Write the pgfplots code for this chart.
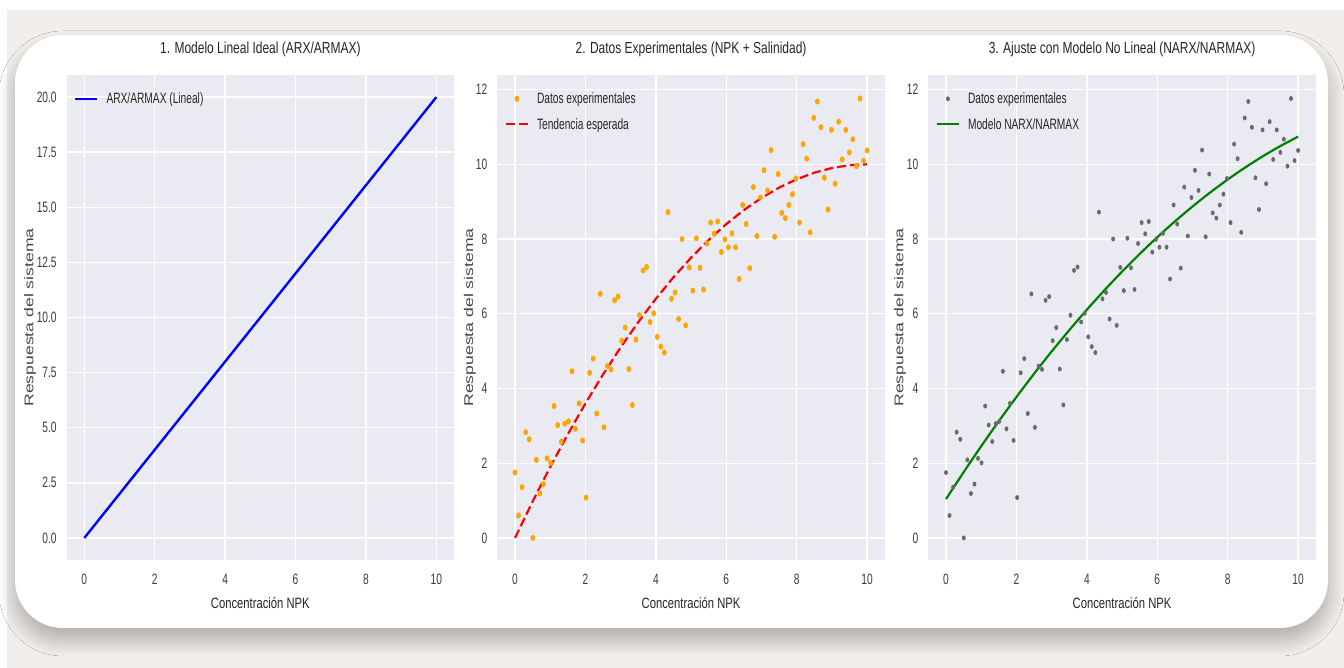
\documentclass[border=0pt]{standalone}
\usepackage{fontspec}
\setmainfont{Liberation Sans}
\newfontfamily\titlefont[FakeStretch=0.75]{Liberation Sans}
\newfontfamily\tickfont[FakeStretch=0.68]{Liberation Sans}
\newfontfamily\legfont[FakeStretch=0.68]{Liberation Sans}
\usepackage{pgfplots}
\pgfplotsset{compat=1.18}
\usepackage{pgfplotstable}
\usetikzlibrary{shadows.blur}

\definecolor{axbg}{HTML}{EAEAF2}
\definecolor{txt}{HTML}{262626}
\definecolor{outbg}{HTML}{F1EEEB}
\definecolor{mplorange}{HTML}{FFA500}
\definecolor{mplgreen}{HTML}{008000}
\definecolor{ptgray}{HTML}{6A6A6A}

\pgfplotstableread{
x y
0.000 1.75
0.101 0.60
0.202 1.36
0.303 2.83
0.404 2.64
0.505 0.00
0.606 2.09
0.707 1.19
0.808 1.44
0.909 2.13
1.010 2.01
1.111 3.53
1.212 3.02
1.313 2.58
1.414 3.06
1.515 3.12
1.616 4.46
1.717 2.92
1.818 3.60
1.919 2.61
2.020 1.08
2.121 4.42
2.222 4.80
2.323 3.33
2.424 6.53
2.525 2.96
2.626 4.60
2.727 4.51
2.828 6.36
2.929 6.46
3.030 5.28
3.131 5.63
3.232 4.52
3.333 3.56
3.434 5.31
3.535 5.96
3.636 7.16
3.737 7.25
3.838 5.78
3.939 6.01
4.040 5.38
4.141 5.12
4.242 4.96
4.343 8.72
4.444 6.40
4.545 6.57
4.646 5.86
4.747 8.00
4.848 5.69
4.949 7.24
5.051 6.62
5.152 8.02
5.253 7.23
5.354 6.65
5.455 7.88
5.556 8.44
5.657 8.14
5.758 8.47
5.859 7.65
5.960 7.99
6.061 7.78
6.162 8.15
6.263 7.78
6.364 6.93
6.465 8.91
6.566 8.40
6.667 7.22
6.768 9.39
6.869 8.08
6.970 9.11
7.071 9.84
7.172 9.30
7.273 10.38
7.374 8.06
7.475 9.74
7.576 8.70
7.677 8.56
7.778 8.91
7.879 9.20
7.980 9.62
8.081 8.44
8.182 10.54
8.283 10.15
8.384 8.18
8.485 11.24
8.586 11.68
8.687 10.99
8.788 9.64
8.889 8.79
8.990 10.92
9.091 9.48
9.192 11.14
9.293 10.13
9.394 10.92
9.495 10.32
9.596 10.67
9.697 9.95
9.798 11.76
9.899 10.10
10.000 10.37
}\datos

\pgfplotstableread{
x y
0.0 0.000
0.5 0.975
1.0 1.900
1.5 2.775
2.0 3.600
2.5 4.375
3.0 5.100
3.5 5.775
4.0 6.400
4.5 6.975
5.0 7.500
5.5 7.975
6.0 8.400
6.5 8.775
7.0 9.100
7.5 9.375
8.0 9.600
8.5 9.775
9.0 9.900
9.5 9.975
10.0 10.000
}\tendencia

\pgfplotstableread{
x y
0.0 1.040
0.5 1.760
1.0 2.456
1.5 3.126
2.0 3.772
2.5 4.393
3.0 4.990
3.5 5.561
4.0 6.108
4.5 6.630
5.0 7.128
5.5 7.600
6.0 8.048
6.5 8.471
7.0 8.870
7.5 9.243
8.0 9.592
8.5 9.916
9.0 10.216
9.5 10.490
10.0 10.740
}\narx

\pgfplotsset{
  panel/.style={
    scale only axis, width=193.65pt, height=242.5pt,
    axis background/.style={fill=axbg},
    axis line style={draw=none},
    grid=major, major grid style={white, line width=0.7pt},
    major tick length=0pt,
    xmin=-0.5, xmax=10.5, xtick={0,2,...,10},
    /pgf/number format/assume math mode=true,
    ticklabel style={font=\tickfont\fontsize{7.5}{9}\selectfont, text=txt!90},
    xticklabel style={yshift=-3.5pt},
    yticklabel style={xshift=-1.5pt},
    title style={font=\titlefont\fontsize{8}{9.6}\selectfont, text=txt, at={(axis description cs:0.5,1)}, anchor=base, yshift=4.5pt},
    xlabel style={font=\titlefont\fontsize{7.5}{9}\selectfont, text=txt, at={(axis description cs:0.5,-0.089)}, anchor=center},
    ylabel style={font=\fontsize{8.8}{10}\selectfont, text=txt!85, anchor=center, yscale=0.72},
    xlabel={Concentración NPK}, ylabel={Respuesta del sistema},
    legend style={draw=none, fill=none, font=\legfont\fontsize{7.5}{9}\selectfont, text=txt,
      at={(axis description cs:0,1)}, anchor=north west, xshift=3.5pt, yshift=-6pt,
      inner sep=0pt, row sep=1.3pt, nodes={inner sep=1pt, text height=0.72em, text depth=0.22em},
      /tikz/every odd column/.append style={column sep=3pt}},
    legend cell align=left,
    legend image code/.code={\draw[#1] (0pt,0pt) -- (11pt,0pt);},
  },
  dotleg/.style={legend image code/.code={\draw[#1] plot coordinates {(5.5pt,0pt)};}},
}

\begin{document}
\begin{tikzpicture}
\useasboundingbox (0,0) rectangle (672pt,334pt);
\fill[white] (0,0) rectangle (672pt,334pt);
\fill[outbg] (3.5pt,0pt) rectangle (672pt,329pt);
\fill[white, rounded corners=24pt, blur shadow={shadow xshift=0pt, shadow yshift=-6pt, shadow blur radius=8pt, shadow blur steps=20, shadow opacity=28}] (7.5pt,20pt) rectangle (664pt,316.5pt);

% Panel 1
\begin{axis}[panel, at={(33.35pt,296.5pt)}, anchor=north west,
  title={1. Modelo Lineal Ideal (ARX/ARMAX)},
  ymin=-1, ymax=21, ytick={0,2.5,...,20},
  yticklabel style={/pgf/number format/.cd, fixed, fixed zerofill, precision=1},
  ylabel style={at={(axis description cs:-0.0948,0.5)}}]
\addplot[blue, line width=1.2pt] coordinates {(0,0) (10,20)};
\addlegendentry{ARX/ARMAX (Lineal)}
\end{axis}

% Panel 2
\begin{axis}[panel, at={(248.7pt,296.5pt)}, anchor=north west,
  title={2. Datos Experimentales (NPK + Salinidad)},
  ymin=-0.59, ymax=12.39, ytick={0,2,...,12},
  ylabel style={at={(axis description cs:-0.071,0.5)}}]
\addplot[only marks, color=mplorange, mark=*, mark size=1.3pt, mark options={xscale=0.75, draw=mplorange, fill=mplorange}, dotleg] table[x=x,y=y] {\datos};
\addlegendentry{Datos experimentales}
\addplot[red, line width=1.1pt, dash pattern=on 4.5pt off 2pt] table[x=x,y=y] {\tendencia};
\addlegendentry{Tendencia esperada}
\end{axis}

% Panel 3
\begin{axis}[panel, at={(464.2pt,296.5pt)}, anchor=north west,
  title={3. Ajuste con Modelo No Lineal (NARX/NARMAX)},
  ymin=-0.59, ymax=12.39, ytick={0,2,...,12},
  ylabel style={at={(axis description cs:-0.073,0.5)}}]
\addplot[only marks, color=ptgray, mark=*, mark size=1.0pt, mark options={xscale=0.75, draw=ptgray, fill=ptgray}, dotleg] table[x=x,y=y] {\datos};
\addlegendentry{Datos experimentales}
\addplot[mplgreen, line width=1.1pt, smooth] table[x=x,y=y] {\narx};
\addlegendentry{Modelo NARX/NARMAX}
\end{axis}
\end{tikzpicture}
\end{document}
